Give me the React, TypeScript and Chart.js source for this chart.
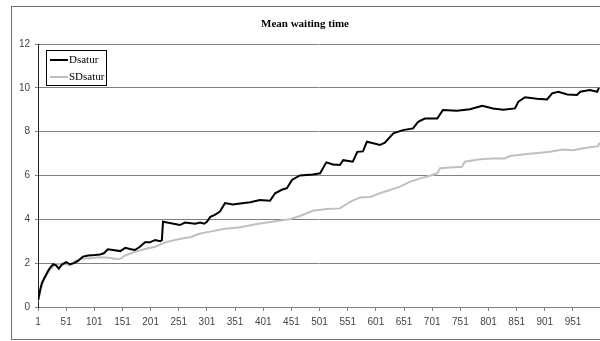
import React, { useEffect, useRef } from "react";
import { Chart, registerables } from "chart.js";

Chart.register(...registerables);

const titleText = "Mean waiting time";
const xTickLabels = [1, 51, 101, 151, 201, 251, 301, 351, 401, 451, 501, 551, 601, 651, 701, 751, 801, 851, 901, 951];
const yTicks = [0, 2, 4, 6, 8, 10, 12];

const dsaturLabel = "Dsatur";
const dsaturX = [1, 5, 8, 12, 15, 19, 22, 28, 33, 38, 44, 51, 58, 65, 72, 81, 90, 102, 111, 118, 125, 134, 147, 156, 164, 173, 182, 191, 200, 209, 218, 221, 223, 235, 253, 262, 280, 289, 296, 301, 307, 315, 324, 333, 347, 360, 378, 395, 413, 422, 434, 443, 452, 466, 489, 502, 513, 525, 537, 543, 560, 568, 578, 585, 600, 608, 617, 632, 649, 667, 676, 688, 710, 720, 745, 768, 790, 809, 827, 848, 854, 866, 887, 905, 914, 925, 941, 958, 964, 981, 994, 997];
const dsaturY = [0.3, 0.8, 1.1, 1.3, 1.45, 1.65, 1.78, 1.95, 1.9, 1.75, 1.95, 2.05, 1.95, 2.0, 2.1, 2.3, 2.35, 2.37, 2.4, 2.45, 2.63, 2.6, 2.55, 2.7, 2.65, 2.6, 2.75, 2.95, 2.95, 3.06, 3.0, 3.05, 3.89, 3.83, 3.74, 3.85, 3.8, 3.85, 3.8, 3.89, 4.12, 4.2, 4.35, 4.74, 4.68, 4.72, 4.78, 4.88, 4.85, 5.19, 5.35, 5.42, 5.8, 6.0, 6.05, 6.1, 6.6, 6.5, 6.48, 6.7, 6.63, 7.08, 7.1, 7.54, 7.45, 7.39, 7.5, 7.92, 8.07, 8.15, 8.45, 8.6, 8.6, 8.99, 8.95, 9.02, 9.18, 9.06, 9.0, 9.06, 9.37, 9.57, 9.5, 9.47, 9.75, 9.82, 9.7, 9.67, 9.82, 9.9, 9.82, 10.0];

const sdsaturLabel = "SDsatur";
const sdsaturX = [1, 5, 8, 13, 22, 31, 40, 51, 58, 67, 76, 93, 111, 129, 138, 147, 156, 173, 191, 209, 227, 244, 262, 271, 289, 307, 330, 360, 390, 426, 449, 466, 489, 514, 537, 555, 573, 591, 608, 626, 644, 662, 680, 697, 710, 715, 733, 754, 759, 786, 809, 830, 839, 870, 893, 910, 933, 951, 969, 996, 998];
const sdsaturY = [0.25, 0.7, 1.0, 1.35, 1.7, 1.95, 1.95, 1.95, 1.9, 2.1, 2.2, 2.22, 2.27, 2.25, 2.19, 2.2, 2.35, 2.52, 2.65, 2.75, 2.95, 3.06, 3.15, 3.18, 3.35, 3.44, 3.56, 3.64, 3.79, 3.92, 4.01, 4.15, 4.39, 4.47, 4.5, 4.8, 5.0, 5.02, 5.19, 5.34, 5.49, 5.72, 5.87, 5.99, 6.1, 6.33, 6.36, 6.4, 6.63, 6.74, 6.78, 6.78, 6.89, 6.98, 7.04, 7.08, 7.19, 7.15, 7.24, 7.34, 7.5];

const toPoints = (xs: number[], ys: number[]) => xs.map((x, i) => ({ x, y: ys[i] }));

const framePlugin = {
  id: "frameAndTitle",
  beforeDraw(chart: any) {
    const ctx = chart.ctx;
    ctx.save();
    ctx.fillStyle = "#ffffff";
    ctx.fillRect(0, 0, chart.width, chart.height);
    ctx.strokeStyle = "#707070";
    ctx.lineWidth = 1;
    ctx.strokeRect(11.5, 6.5, 800, 333);
    ctx.fillStyle = "#000000";
    ctx.font = "bold 11px 'Liberation Serif', serif";
    ctx.textAlign = "center";
    ctx.textBaseline = "middle";
    ctx.fillText(titleText, 305, 24);
    ctx.restore();
  },
  afterDraw(chart: any) {
    const ctx = chart.ctx;
    ctx.save();
    ctx.fillStyle = "#ffffff";
    ctx.fillRect(46, 50, 60, 35);
    ctx.strokeStyle = "#000000";
    ctx.lineWidth = 1;
    ctx.strokeRect(46.5, 50.5, 60, 35);
    const ys = [60, 77];
    ctx.font = "11px 'Liberation Serif', serif";
    ctx.textBaseline = "middle";
    ctx.textAlign = "left";
    chart.data.datasets.forEach((ds: any, i: number) => {
      ctx.strokeStyle = ds.borderColor;
      ctx.lineWidth = ds.borderWidth;
      ctx.beginPath();
      ctx.moveTo(50, ys[i]);
      ctx.lineTo(68, ys[i]);
      ctx.stroke();
      ctx.fillStyle = "#000000";
      ctx.fillText(ds.label, 69, ys[i] + 0.5);
    });
    ctx.restore();
  },
};

export default function App() {
  const ref = useRef<HTMLCanvasElement>(null);
  useEffect(() => {
    if (!ref.current) return;
    const chart = new Chart(ref.current, {
      type: "line",
      data: {
        datasets: [
          {
            label: dsaturLabel,
            data: toPoints(dsaturX, dsaturY),
            borderColor: "#000000",
            borderWidth: 2,
            pointRadius: 0,
            tension: 0,
          },
          {
            label: sdsaturLabel,
            data: toPoints(sdsaturX, sdsaturY),
            borderColor: "#c0c0c0",
            borderWidth: 2,
            pointRadius: 0,
            tension: 0,
          },
        ],
      },
      options: {
        animation: false,
        responsive: false,
        maintainAspectRatio: false,
        layout: { padding: { top: 44, left: 0, right: 0, bottom: 0 } },
        plugins: {
          legend: { display: false },
          title: { display: false },
          tooltip: { enabled: false },
        },
        scales: {
          x: {
            type: "linear",
            min: 1,
            max: 999,
            afterBuildTicks: (s: any) => {
              s.ticks = xTickLabels.map((v) => ({ value: v }));
            },
            afterFit: (s: any) => {
              s.height = 34;
            },
            ticks: {
              autoSkip: false,
              maxRotation: 0,
              padding: 5,
              color: "#444444",
              font: { family: "'Liberation Sans', sans-serif", size: 10 },
              callback: (v: any) => String(v),
            },
            grid: { drawOnChartArea: false, drawTicks: true, tickLength: 4, color: "#808080" },
            border: { color: "#808080", width: 1 },
          },
          y: {
            min: 0,
            max: 12,
            afterBuildTicks: (s: any) => {
              s.ticks = yTicks.map((v) => ({ value: v }));
            },
            afterFit: (s: any) => {
              s.width = 38;
            },
            ticks: {
              padding: 5,
              color: "#444444",
              font: { family: "'Liberation Sans', sans-serif", size: 10 },
            },
            grid: { color: "#808080", tickLength: 3, drawTicks: true },
            border: { color: "#202020", width: 1 },
          },
        },
      },
      plugins: [framePlugin],
    });
    return () => chart.destroy();
  }, []);
  return (
    <div style={{ position: "absolute", left: 0, top: 0, width: 600, height: 341 }}>
      <canvas ref={ref} width={600} height={341} style={{ width: 600, height: 341 }} />
    </div>
  );
}
